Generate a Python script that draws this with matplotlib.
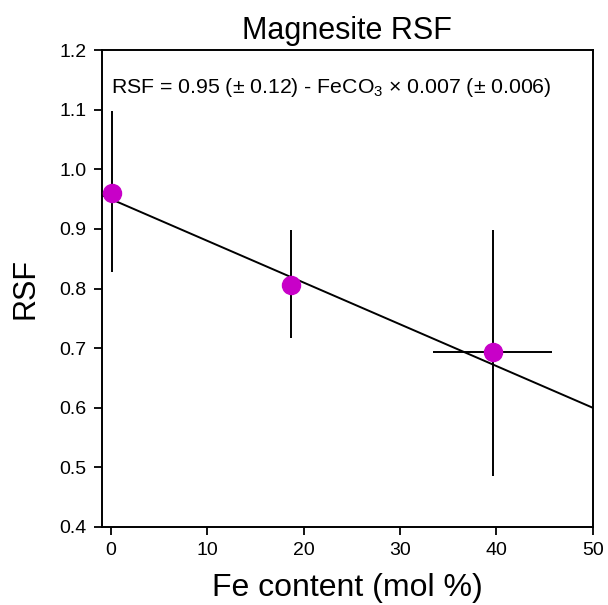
import numpy as np
import matplotlib.pyplot as plt

plt.rcParams['font.family'] = ['Liberation Sans', 'DejaVu Sans']
plt.rcParams['mathtext.default'] = 'regular'

# Fe content (mol %) and measured RSF with uncertainties
fe = [0.1, 18.7, 39.6]
rsf = [0.961, 0.806, 0.694]
rsf_lo = [0.828, 0.717, 0.486]
rsf_hi = [1.098, 0.898, 0.898]
fe_lo = [0.1, 18.7, 33.4]
fe_hi = [0.1, 18.7, 45.8]

# linear fit parameters
intercept = 0.95
slope = -0.007

yerr = [np.subtract(rsf, rsf_lo), np.subtract(rsf_hi, rsf)]
xerr = [np.subtract(fe, fe_lo), np.subtract(fe_hi, fe)]

fig = plt.figure(figsize=(6.08, 6.05), dpi=100)
ax = fig.add_axes([0.167, 0.129, 0.808, 0.788])

xfit = np.array([-1, 50])
ax.plot(xfit, intercept + slope * xfit, color='black', lw=1.4, zorder=2)
ax.errorbar(fe, rsf, yerr=yerr, xerr=xerr, fmt='none', ecolor='black',
            elinewidth=1.4, capsize=0, zorder=3)
ax.plot(fe, rsf, 'o', color='#c800c8', markersize=13, zorder=4)

ax.text(0, 1.138, 'RSF = 0.95 (± 0.12) - FeCO$_3$ × 0.007 (± 0.006)',
        fontsize=15.3, va='center', ha='left')

ax.set_xlim(-1, 50)
ax.set_ylim(0.4, 1.2)
ax.set_xticks([0, 10, 20, 30, 40, 50])
ax.set_yticks(np.arange(0.4, 1.21, 0.1))
ax.set_yticklabels(['%.1f' % v for v in np.arange(0.4, 1.21, 0.1)])
ax.tick_params(labelsize=14, length=6, width=1.3, direction='out', pad=5)
for s in ax.spines.values():
    s.set_linewidth(1.4)

ax.set_title('Magnesite RSF', fontsize=22, pad=8)
ax.set_xlabel('Fe content (mol %)', fontsize=23, labelpad=10)
ax.set_ylabel('RSF', fontsize=22, labelpad=13)

fig.savefig('out.png')
